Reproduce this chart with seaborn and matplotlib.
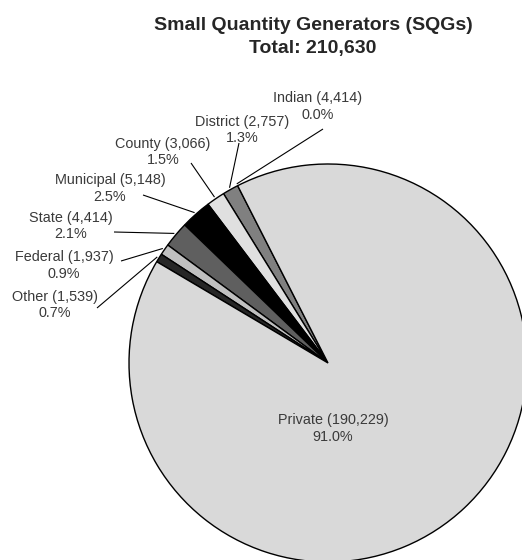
import numpy as np
import matplotlib
matplotlib.use("Agg")
import matplotlib.pyplot as plt
import seaborn as sns

# Generator ownership categories, drawn counterclockwise from the top edge of "Private"
categories = ["Indian", "District", "County", "Municipal", "State", "Federal", "Other", "Private"]
counts = [4414, 2757, 3066, 5148, 4414, 1937, 1539, 190229]
percents = [0.0, 1.3, 1.5, 2.5, 2.1, 0.9, 0.7, 91.0]
total = 210630

colors = ["#a6a6a6", "#808080", "#e0e0e0", "#000000", "#5f5f5f", "#c0c0c0", "#262626", "#d9d9d9"]

sns.set_theme(style="white")
plt.rcParams["font.family"] = ["Liberation Sans", "DejaVu Sans"]

W, H = 522, 560
fig = plt.figure(figsize=(W / 100, H / 100), dpi=100)
ax = fig.add_axes([0, 0, 1, 1])

# Pie laid out in pixel units (y measured upward from the bottom)
center = (328, H - 363)
radius = 199
wedges, _ = ax.pie(percents, colors=colors, startangle=117, counterclock=True,
                   center=center, radius=radius,
                   wedgeprops=dict(edgecolor="black", linewidth=1.0))
ax.set_xlim(0, W)
ax.set_ylim(0, H)
ax.set_aspect("equal")
ax.axis("off")

# Label block centres and leader-line start points (pixel coordinates from the top)
label_pos = {
    "Indian": (318, 106.5), "District": (242, 130), "County": (163, 152),
    "Municipal": (110, 188.5), "State": (71, 226), "Federal": (64, 265.5),
    "Other": (55, 305), "Private": (333, 428.5),
}
leader_start = {
    "Indian": (323, 129), "District": (239, 143), "County": (191, 163),
    "Municipal": (143, 195), "State": (114, 232), "Federal": (121, 261),
    "Other": (97, 308),
}

text_color = "#3a3a3a"
for w, name, cnt, pct in zip(wedges, categories, counts, percents):
    lx, ly = label_pos[name]
    ax.text(lx, H - ly, f"{name} ({cnt:,})\n{pct:.1f}%", ha="center", va="center",
            fontsize=10.4, color=text_color, linespacing=1.22, multialignment="center")
    if name in leader_start:
        mid = np.deg2rad((w.theta1 + w.theta2) / 2)
        ex = center[0] + (radius + 2) * np.cos(mid)
        ey = center[1] + (radius + 2) * np.sin(mid)
        sx, sy = leader_start[name]
        ax.plot([sx, ex], [H - sy, ey], color="black", linewidth=0.8, solid_capstyle="butt")

fig.text(313 / W, 1 - 37 / H, f"Small Quantity Generators (SQGs)\nTotal: {total:,}",
         ha="center", va="center", fontsize=14, fontweight="bold", color="#262626",
         linespacing=1.45)

fig.savefig("out.png", dpi=100)
